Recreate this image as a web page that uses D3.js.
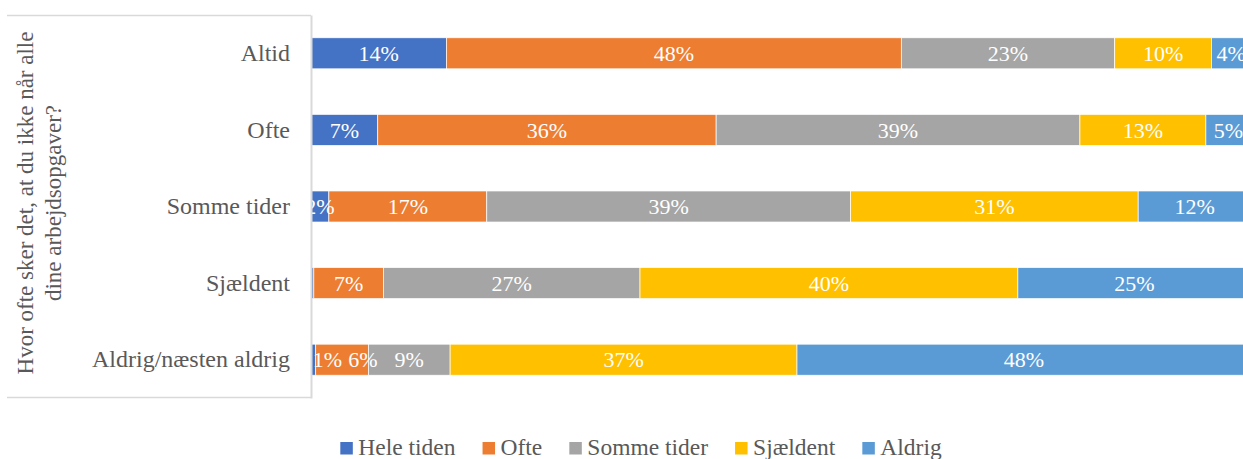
<!DOCTYPE html>
<html><head><meta charset="utf-8">
<script src="https://cdn.jsdelivr.net/npm/d3@7"></script>
<style>
html,body{margin:0;padding:0;background:#fff;overflow:hidden}
svg{display:block}
</style></head>
<body>
<svg id="chart" width="1243" height="459"></svg>
<script>
// ---- data ----
const categories = ["Altid", "Ofte", "Somme tider", "Sjældent", "Aldrig/næsten aldrig"];
const seriesNames = ["Hele tiden", "Ofte", "Somme tider", "Sjældent", "Aldrig"];
const seriesColors = ["#4472C4", "#ED7D31", "#A5A5A5", "#FFC000", "#5B9BD5"];
const heleTiden  = [14.4,  7.1,  1.9,  0.3,  0.5];
const ofte       = [48.4, 36.0, 16.8,  7.4,  5.6];
const sommeTider = [22.7, 38.7, 38.7, 27.3,  8.7];
const sjaeldent  = [10.3, 13.4, 30.6, 40.2, 36.9];
const aldrig     = [ 4.2,  4.8, 12.0, 24.8, 48.3];
const axisTitleLines = ["Hvor ofte sker det, at du ikke når alle", "dine arbejdsopgaver?"];

const seriesValues = [heleTiden, ofte, sommeTider, sjaeldent, aldrig];
const rows = categories.map((c, i) => {
  const r = {cat: c};
  seriesNames.forEach((s, j) => r[s] = seriesValues[j][i]);
  return r;
});

const FONT = "'Liberation Serif', 'DejaVu Serif', serif";
const TXT = "#595959";
const svg = d3.select("#chart");

const x = d3.scaleLinear().domain([0, 100]).range([311, 1251]);
const y = d3.scaleBand().domain(categories).range([15, 398]).paddingInner(0.595).paddingOuter(0.2975);

// frame of the category table
svg.append("line").attr("x1", 7).attr("x2", 311).attr("y1", 15.5).attr("y2", 15.5)
  .attr("stroke", "#d9d9d9").attr("stroke-width", 1.5);
svg.append("line").attr("x1", 7).attr("x2", 311).attr("y1", 397.5).attr("y2", 397.5)
  .attr("stroke", "#d9d9d9").attr("stroke-width", 1.5);

const stack = d3.stack().keys(seriesNames)(rows);

const clip = svg.append("defs").append("clipPath").attr("id", "plotclip");
clip.append("rect").attr("x", 311).attr("y", 0).attr("width", 1000).attr("height", 420);

const g = svg.append("g");
stack.forEach((layer, j) => {
  g.append("g").selectAll("rect").data(layer).join("rect")
    .attr("x", d => x(d[0]))
    .attr("y", d => y(d.data.cat))
    .attr("width", d => x(d[1]) - x(d[0]))
    .attr("height", y.bandwidth())
    .attr("fill", seriesColors[j])
    .attr("stroke", "#ffffff").attr("stroke-width", 0.7);
});

// label nudges for crowded small segments (layout only)
const nudge = {"Aldrig/næsten aldrig|Hele tiden": 14, "Aldrig/næsten aldrig|Ofte": 21};
const lg = svg.append("g").attr("clip-path", "url(#plotclip)");
stack.forEach((layer, j) => {
  lg.append("g").selectAll("text").data(layer.filter(d => d[1] - d[0] >= 0.5)).join("text")
    .attr("x", d => (x(d[0]) + x(d[1])) / 2 + (nudge[d.data.cat + "|" + seriesNames[j]] || 0))
    .attr("y", d => y(d.data.cat) + y.bandwidth() / 2)
    .attr("dy", "0.35em")
    .attr("text-anchor", "middle")
    .attr("fill", "#ffffff")
    .style("font-family", FONT).style("font-size", "22px")
    .text(d => Math.round(d[1] - d[0]) + "%");
});

// axis
const yAxis = d3.axisLeft(y).tickSize(0).tickPadding(21);
const ag = svg.append("g").attr("transform", "translate(311,0)").call(yAxis);
ag.select(".domain").attr("stroke", "#d9d9d9").attr("stroke-width", 2);
ag.selectAll("text").attr("fill", TXT).style("font-family", FONT).style("font-size", "24px");

// rotated title
const tt = svg.append("text").attr("transform", "translate(0,203) rotate(-90)")
  .attr("text-anchor", "middle").attr("fill", TXT)
  .style("font-family", FONT).style("font-size", "23px");
axisTitleLines.forEach((t, i) => {
  tt.append("tspan").attr("x", 0).attr("y", 33 + i * 28).text(t);
});

// legend
const leg = svg.append("g");
const items = seriesNames.map((s, i) => {
  const it = leg.append("g");
  it.append("rect").attr("width", 12.5).attr("height", 12.5).attr("y", -13).attr("fill", seriesColors[i]);
  const t = it.append("text").attr("x", 18).attr("y", 0).attr("fill", TXT)
    .style("font-family", FONT).style("font-size", "23.5px").text(s);
  return {g: it, w: 18 + t.node().getComputedTextLength()};
});
const gap = 27;
const total = d3.sum(items, d => d.w) + gap * (items.length - 1);
let cx = 641 - total / 2;
items.forEach(it => { it.g.attr("transform", `translate(${cx},455)`); cx += it.w + gap; });
</script>
</body></html>
